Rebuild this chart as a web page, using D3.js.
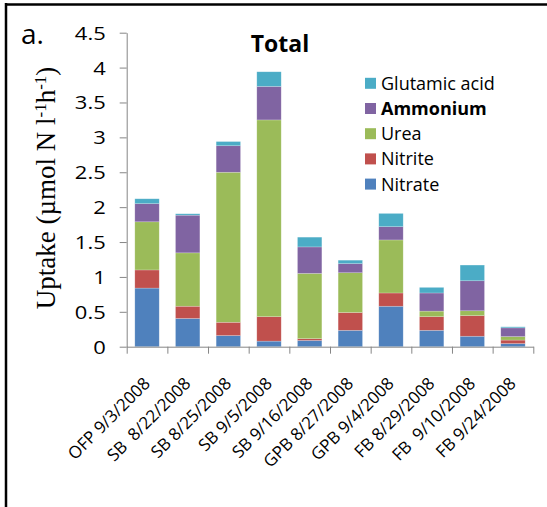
<!DOCTYPE html>
<html>
<head>
<meta charset="utf-8">
<script src="https://cdn.jsdelivr.net/npm/d3@7"></script>
<style>
  body { margin: 0; background: #fff; }
  svg { display: block; }
</style>
</head>
<body>
<svg id="chart"></svg>
<script>
const sites = ["OFP 9/3/2008", "SB  8/22/2008", "SB 8/25/2008", "SB 9/5/2008", "SB 9/16/2008",
               "GPB 8/27/2008", "GPB 9/4/2008", "FB 8/29/2008", "FB  9/10/2008", "FB 9/24/2008"];
const nitrate  = [0.84, 0.405, 0.16, 0.08, 0.09, 0.235, 0.58, 0.235, 0.15, 0.045];
const nitrite  = [0.26, 0.175, 0.19, 0.35, 0.025, 0.255, 0.19, 0.195, 0.295, 0.05];
const urea     = [0.69, 0.765, 2.15, 2.82, 0.935, 0.57, 0.76, 0.08, 0.07, 0.05];
const ammonium = [0.26, 0.54, 0.38, 0.48, 0.38, 0.13, 0.19, 0.26, 0.43, 0.125];
const glutamic = [0.07, 0.02, 0.06, 0.21, 0.14, 0.05, 0.19, 0.08, 0.225, 0.015];
const seriesNames = ["Nitrate", "Nitrite", "Urea", "Ammonium", "Glutamic acid"];
const yTicks = [0, 0.5, 1, 1.5, 2, 2.5, 3, 3.5, 4, 4.5];

const colors = ["#4F81BD", "#C0504D", "#9BBB59", "#8064A2", "#4BACC6"];
const sans = "'Open Sans', sans-serif";

const W = 547, H = 507;
const svg = d3.select("#chart").attr("width", W).attr("height", H);

// frame (only top & left edges visible)
svg.append("line").attr("x1", 5).attr("x2", W).attr("y1", 4.5).attr("y2", 4.5)
   .attr("stroke", "#000").attr("stroke-width", 2.5);
svg.append("line").attr("x1", 6).attr("x2", 6).attr("y1", 3).attr("y2", H)
   .attr("stroke", "#000").attr("stroke-width", 2.5);

const table = sites.map((s, i) => ({
  site: s, Nitrate: nitrate[i], Nitrite: nitrite[i], Urea: urea[i],
  Ammonium: ammonium[i], "Glutamic acid": glutamic[i]
}));
const stacked = d3.stack().keys(seriesNames)(table);

const x = d3.scaleBand().domain(sites).range([126.7, 533.3]).paddingInner(0.4).paddingOuter(0.2);
const xEdge = d3.scaleLinear().domain([0, sites.length]).range([126.7, 533.3]);
const y = d3.scaleLinear().domain([0, 4.5]).range([346.7, 32.7]);

// bars
svg.append("g").selectAll("g")
   .data(stacked)
   .join("g")
   .attr("fill", (d, i) => colors[i])
   .selectAll("rect")
   .data(d => d)
   .join("rect")
   .attr("x", d => x(d.data.site))
   .attr("width", x.bandwidth())
   .attr("y", d => y(d[1]))
   .attr("height", d => y(d[0]) - y(d[1]))
   .attr("stroke", "rgba(255,255,255,0.35)")
   .attr("stroke-width", 0.6);

// y axis
const yAxis = svg.append("g")
   .attr("transform", "translate(126.7,0)")
   .call(d3.axisLeft(y).tickValues(yTicks).tickFormat(d => String(d)).tickSize(7).tickSizeOuter(0));
yAxis.selectAll("path, line").attr("stroke", "#868686");
yAxis.selectAll("text")
   .attr("font-family", sans).attr("font-size", 18).attr("fill", "#000")
   .attr("x", -21 / 1.22).attr("dy", "0.36em")
   .attr("transform", "scale(1.22,1)");

// x axis: boundary ticks
const xAxis = svg.append("g")
   .attr("transform", "translate(0,346.7)")
   .call(d3.axisBottom(xEdge).tickValues(d3.range(sites.length + 1)).tickFormat("").tickSize(7).tickSizeOuter(0));
xAxis.selectAll("path, line").attr("stroke", "#868686");

// x labels, rotated
const xLab = svg.append("g")
   .attr("transform", "translate(0,346.7)")
   .call(d3.axisBottom(x).tickSize(0).tickSizeOuter(0));
xLab.select(".domain").remove();
xLab.selectAll("text")
   .attr("font-family", sans).attr("font-size", 17).attr("fill", "#000")
   .attr("text-anchor", "end")
   .attr("y", 0).attr("dy", 0)
   .attr("transform", "translate(4,38) rotate(-45)")
   .style("white-space", "pre");

// y-axis title
const yt = svg.append("text")
   .attr("transform", "translate(55,188) rotate(-90)")
   .attr("text-anchor", "middle")
   .attr("font-family", "'Liberation Serif', serif")
   .attr("font-size", 27);
yt.append("tspan").text("Uptake (\u00b5mol N l");
yt.append("tspan").attr("font-size", 17).attr("baseline-shift", "super").text("-1");
yt.append("tspan").text("h");
yt.append("tspan").attr("font-size", 17).attr("baseline-shift", "super").text("-1");
yt.append("tspan").text(")");

// title & panel tag
svg.append("text").attr("x", 280).attr("y", 52).attr("text-anchor", "middle")
   .attr("font-family", sans).attr("font-weight", "bold").attr("font-size", 23).text("Total");
svg.append("text").attr("x", 21).attr("y", 44)
   .attr("font-family", sans).attr("font-size", 28).text("a.");

// legend (top item = Glutamic acid)
const legendOrder = seriesNames.map((n, i) => ({ name: n, color: colors[i] })).reverse();
const lg = svg.append("g").selectAll("g")
   .data(legendOrder)
   .join("g")
   .attr("transform", (d, i) => `translate(365,${83.3 + i * 25.2})`);
lg.append("rect").attr("x", 0).attr("y", -5.5).attr("width", 11).attr("height", 11)
  .attr("fill", d => d.color);
lg.append("text").attr("x", 16).attr("dy", "0.36em")
  .attr("font-family", sans).attr("font-size", 18)
  .attr("font-weight", d => d.name === "Ammonium" ? "bold" : "normal")
  .text(d => d.name);
</script>
</body>
</html>
